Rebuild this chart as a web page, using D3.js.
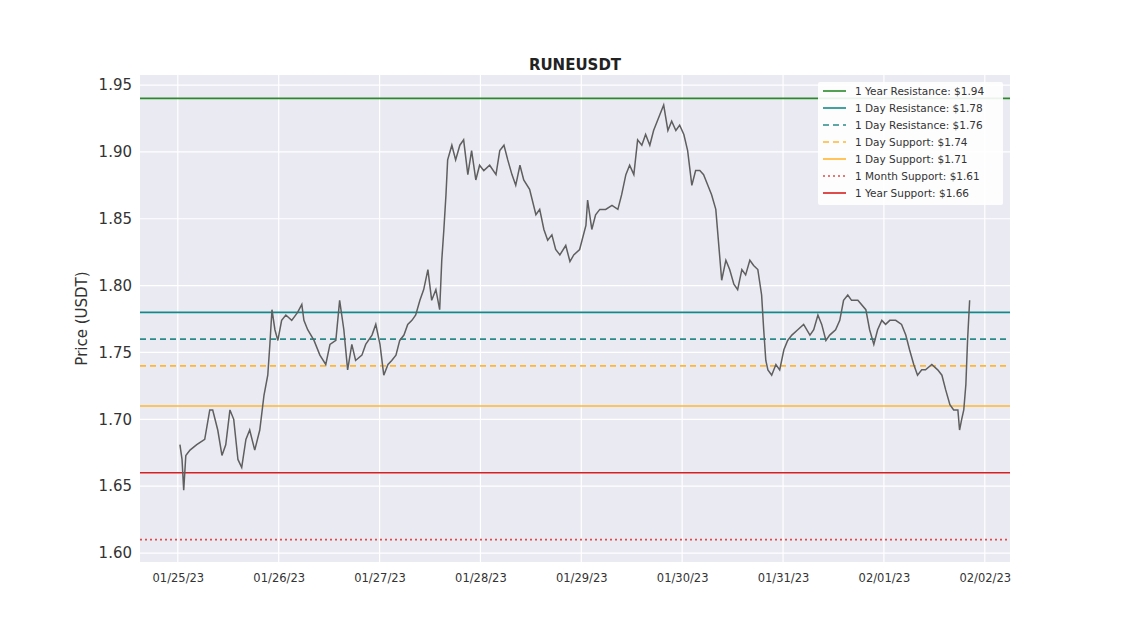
<!DOCTYPE html>
<html><head><meta charset="utf-8">
<script src="https://cdn.jsdelivr.net/npm/d3@7"></script>
<style>body{margin:0;background:#fff}svg{font-family:"DejaVu Sans",sans-serif}</style>
</head><body><svg id="c" width="1122" height="631"></svg>
<script>
const startDate = new Date(2023,0,25,0,0);
const hours = [0.5,1.0,1.4,1.9,2.9,4.5,6.4,7.6,8.3,9.5,10.5,11.4,12.4,13.3,14.3,15.2,16.2,17.1,18.3,19.5,20.5,21.4,21.9,22.4,23.1,23.8,24.7,25.7,27.1,28.5,29.5,30.0,30.9,32.4,33.8,35.2,36.2,37.6,38.5,39.5,40.4,41.4,42.3,43.8,44.7,46.2,47.1,48.1,49.0,50.0,50.9,51.9,52.8,53.8,54.7,55.7,56.6,57.6,58.5,59.5,60.4,61.4,62.3,62.8,63.3,63.8,64.2,65.2,66.1,67.1,68.0,69.0,69.9,70.9,71.8,72.8,74.2,75.7,76.6,77.6,78.5,79.5,80.4,81.4,82.3,83.7,85.2,86.1,87.1,88.0,89.0,89.9,90.9,92.3,93.3,94.2,95.6,97.1,97.5,98.5,99.4,100.4,101.8,103.3,104.7,105.6,106.6,107.5,108.5,109.4,110.4,111.3,112.3,113.2,114.7,115.6,116.6,117.5,118.5,119.4,120.4,121.3,122.3,123.2,124.2,125.1,126.1,127.0,128.0,128.9,129.4,130.4,131.3,132.3,133.2,134.2,135.1,136.1,137.0,138.0,138.9,139.4,139.9,140.4,141.3,142.3,143.2,144.2,145.1,146.1,147.5,148.9,150.4,151.3,152.3,153.2,154.2,155.1,156.5,157.5,158.4,159.4,160.3,161.8,163.7,164.6,165.6,166.5,167.5,168.4,169.4,170.8,172.2,173.2,174.1,175.1,176.0,177.0,177.9,179.4,180.8,181.8,182.7,183.7,184.6,185.6,186.0,186.5,187.0,187.5,187.9,188.4];
const prices = [1.681,1.670,1.647,1.673,1.677,1.681,1.685,1.707,1.707,1.692,1.673,1.681,1.707,1.700,1.670,1.664,1.685,1.692,1.677,1.692,1.718,1.733,1.756,1.782,1.767,1.759,1.774,1.778,1.774,1.780,1.786,1.774,1.767,1.759,1.748,1.741,1.756,1.759,1.789,1.767,1.737,1.756,1.744,1.748,1.756,1.763,1.771,1.756,1.733,1.741,1.744,1.748,1.759,1.763,1.771,1.774,1.778,1.789,1.797,1.812,1.789,1.797,1.782,1.819,1.842,1.868,1.894,1.905,1.894,1.905,1.909,1.883,1.901,1.879,1.890,1.886,1.890,1.883,1.901,1.905,1.894,1.883,1.875,1.890,1.879,1.872,1.853,1.857,1.842,1.834,1.838,1.827,1.823,1.830,1.818,1.823,1.827,1.845,1.864,1.842,1.853,1.857,1.857,1.860,1.857,1.868,1.883,1.890,1.883,1.909,1.905,1.913,1.905,1.916,1.928,1.935,1.916,1.923,1.916,1.920,1.913,1.901,1.875,1.886,1.886,1.883,1.875,1.868,1.857,1.823,1.804,1.819,1.812,1.801,1.797,1.812,1.808,1.819,1.815,1.812,1.793,1.767,1.744,1.737,1.733,1.741,1.737,1.752,1.759,1.763,1.767,1.771,1.763,1.767,1.778,1.771,1.759,1.763,1.767,1.774,1.789,1.793,1.789,1.789,1.782,1.767,1.756,1.767,1.774,1.771,1.774,1.774,1.771,1.763,1.752,1.741,1.733,1.737,1.737,1.741,1.737,1.733,1.722,1.711,1.707,1.707,1.692,1.700,1.707,1.726,1.759,1.789];
const levelLabels = ["1 Year Resistance: $1.94","1 Day Resistance: $1.78","1 Day Resistance: $1.76","1 Day Support: $1.74","1 Day Support: $1.71","1 Month Support: $1.61","1 Year Support: $1.66"];
const levelValues = [1.94,1.78,1.76,1.74,1.71,1.61,1.66];
const levelColors = ["#2a8a2a","#138a8a","#2a8a8a","#ffb733","#ffb733","#e04a4a","#d62020"];
const levelDash = ["","","6,4","6,4","","2,3",""];
const yTicks = [1.60,1.65,1.70,1.75,1.80,1.85,1.90,1.95];
const xTickDates = ["2023-01-25","2023-01-26","2023-01-27","2023-01-28","2023-01-29","2023-01-30","2023-01-31","2023-02-01","2023-02-02"];

const svg = d3.select("#c");
const L=140,R=1010,T=75,B=562;
const x = d3.scaleTime().domain([new Date(2023,0,24,15,0), new Date(2023,1,2,6,0)]).range([L,R]);
const y = d3.scaleLinear().domain([1.5933,1.9575]).range([B,T]);
svg.append("rect").attr("x",L).attr("y",T).attr("width",R-L).attr("height",B-T).attr("fill","#eaeaf2");
const xt = xTickDates.map(s=>{const [a,b,c]=s.split("-").map(Number);return new Date(a,b-1,c);});
svg.append("g").selectAll("line").data(xt).join("line").attr("x1",d=>x(d)).attr("x2",d=>x(d)).attr("y1",T).attr("y2",B).attr("stroke","#fff").attr("stroke-width",1.2);
svg.append("g").selectAll("line").data(yTicks).join("line").attr("y1",d=>y(d)).attr("y2",d=>y(d)).attr("x1",L).attr("x2",R).attr("stroke","#fff").attr("stroke-width",1.2);
const fmt=d3.timeFormat("%m/%d/%y");
svg.append("g").attr("transform",`translate(0,${B})`).call(d3.axisBottom(x).tickValues(xt).tickFormat(fmt).tickSize(0).tickPadding(12))
 .call(g=>g.select(".domain").remove()).selectAll("text").attr("font-size",11.5).attr("fill","#333").attr("font-family","DejaVu Sans");
svg.append("g").attr("transform",`translate(${L},0)`).call(d3.axisLeft(y).tickValues(yTicks).tickFormat(d3.format(".2f")).tickSize(0).tickPadding(8))
 .call(g=>g.select(".domain").remove()).selectAll("text").attr("font-size",15).attr("fill","#333").attr("font-family","DejaVu Sans");
levelValues.forEach((v,i)=>{
 svg.append("line").attr("x1",L).attr("x2",R).attr("y1",y(v)).attr("y2",y(v)).attr("stroke",levelColors[i]).attr("stroke-width",1.6).attr("stroke-dasharray",levelDash[i]);
});
const data = hours.map((h,i)=>({t:new Date(startDate.getTime()+h*3600000),p:prices[i]}));
svg.append("path").datum(data).attr("fill","none").attr("stroke","#5f5f5f").attr("stroke-width",1.5)
 .attr("d",d3.line().x(d=>x(d.t)).y(d=>y(d.p)));
svg.append("text").attr("x",575).attr("y",70).attr("text-anchor","middle").attr("font-weight","bold").attr("font-size",15).attr("fill","#222").text("RUNEUSDT");
svg.append("text").attr("transform",`translate(87,${(T+B)/2}) rotate(-90)`).attr("text-anchor","middle").attr("font-size",15).attr("fill","#333").text("Price (USDT)");
const lg=svg.append("g").attr("transform","translate(818,82)");
lg.append("rect").attr("width",185).attr("height",123).attr("fill","#fff").attr("opacity",0.9).attr("rx",2);
levelLabels.forEach((s,i)=>{
 const yy=9+i*17;
 lg.append("line").attr("x1",5).attr("x2",28).attr("y1",yy).attr("y2",yy).attr("stroke",levelColors[i]).attr("stroke-width",1.6).attr("stroke-dasharray",levelDash[i]);
 lg.append("text").attr("x",37).attr("y",yy+4).attr("font-size",10.5).attr("fill","#333").text(s);
});
</script></body></html>
